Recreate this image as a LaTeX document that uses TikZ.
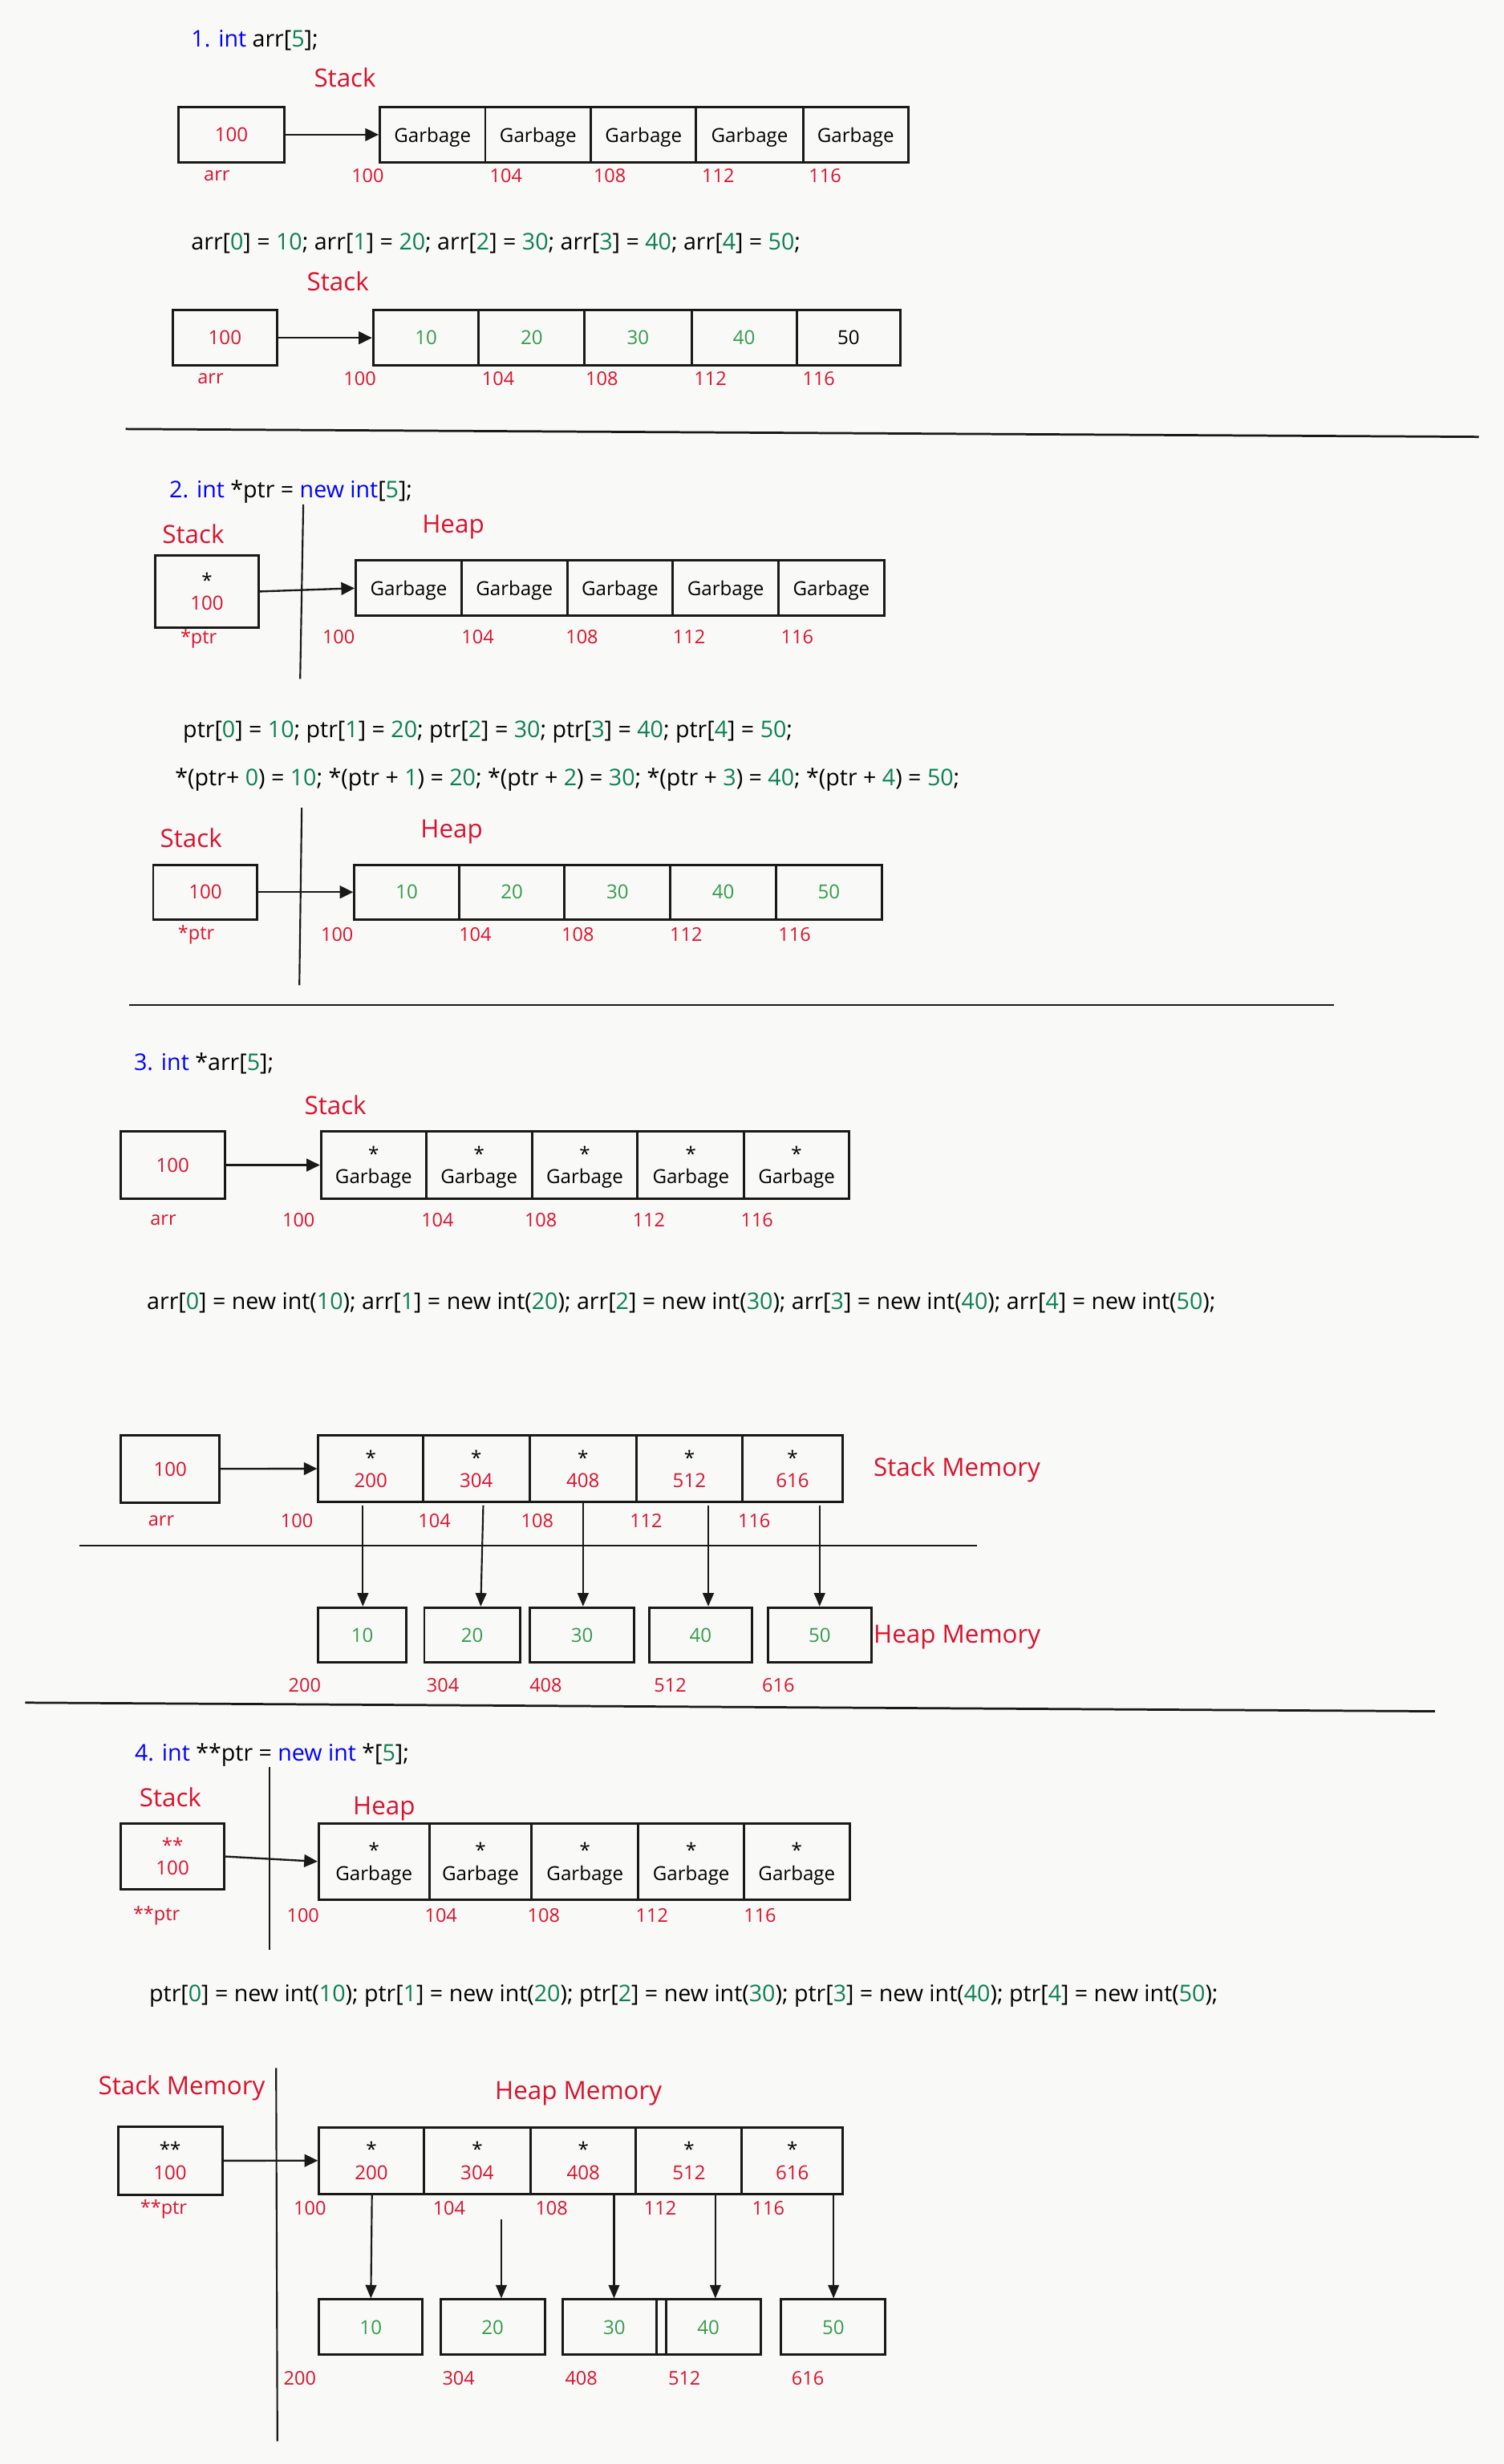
\documentclass[tikz,border=0pt]{standalone}
\usepackage{fontspec}
\setmainfont{Open Sans}
\usetikzlibrary{arrows.meta}
\definecolor{bg}{RGB}{249,249,247}
\definecolor{vred}{RGB}{218,18,45}
\definecolor{kblue}{RGB}{0,0,255}
\definecolor{kgreen}{RGB}{12,128,84}
\definecolor{vgreen}{RGB}{52,156,76}
\newcommand\kb[1]{\textcolor{kblue}{#1}}
\newcommand\gn[1]{\textcolor{kgreen}{#1}}
\newcommand\vg[1]{\textcolor{vgreen}{#1}}
\newcommand\rd[1]{\textcolor{vred}{#1}}
\newcommand\mkcell[6]{\node[cellst, minimum width={#3-#2}, minimum height=#5] (#1) at ({(#2+#3)/2},#4) {#6};}
\begin{document}
\begin{tikzpicture}[x=1pt,y=-1pt,
  cellst/.style={draw=black!90, line width=1.5pt, inner sep=0pt, text depth=0pt, align=center, font=\fontsize{12.3}{14.5}\selectfont},
  addr/.style={text=vred, inner sep=0pt, font=\fontsize{12}{14}\selectfont},
  code/.style={anchor=west, inner sep=0pt, font=\fontsize{14.6}{17}\selectfont},
  ttl/.style={text=vred, inner sep=0pt, font=\fontsize{16}{19}\selectfont},
  harr/.style={-{Triangle[length=8.5pt,width=8pt]}, line width=1.2pt, draw=black!90},
  varr/.style={-{Triangle[length=8.5pt,width=7pt]}, line width=1.1pt, draw=black!90},
  sepline/.style={line width=1.4pt, draw=black!90},
  divline/.style={line width=1.1pt, draw=black!90}]
\fill[bg] (0,0) rectangle (957,1568);
\useasboundingbox (0,0) rectangle (957,1568);

%% ---------- Section 1 ----------
\node[code] (t1) at (121.5,25.5) {\kb{1. int} arr[\gn{5}];};
\node[ttl] (st1) at (219.5,49.5) {Stack};
\mkcell{a1}{113.7}{180.8}{85.7}{35.5}{\rd{100}}
\node[addr] (la1) at (138,112) {arr};
\mkcell{g11}{241.7}{308.8}{85.7}{35.5}{Garbage}
\mkcell{g12}{308.8}{376}{85.7}{35.5}{Garbage}
\mkcell{g13}{376}{443}{85.7}{35.5}{Garbage}
\mkcell{g14}{443}{511}{85.7}{35.5}{Garbage}
\mkcell{g15}{511}{578}{85.7}{35.5}{Garbage}
\draw[harr] (a1.east) -- (g11.west);
\node[addr] (ad11) at (234,112) {100};
\node[addr] (ad12) at (322,112) {104};
\node[addr] (ad13) at (388,112) {108};
\node[addr] (ad14) at (457,112) {112};
\node[addr] (ad15) at (525,112) {116};

\node[code] (t1b) at (121.5,155) {arr[\gn{0}] = \gn{10}; arr[\gn{1}] = \gn{20}; arr[\gn{2}] = \gn{30}; arr[\gn{3}] = \gn{40}; arr[\gn{4}] = \gn{50};};
\node[ttl] (st1b) at (215,179) {Stack};
\mkcell{b1}{110}{176.2}{215}{35}{\rd{100}}
\node[addr] (lb1) at (134,241) {arr};
\mkcell{v11}{237.5}{304.6}{215}{35}{\vg{10}}
\mkcell{v12}{304.6}{372}{215}{35}{\vg{20}}
\mkcell{v13}{372}{440}{215}{35}{\vg{30}}
\mkcell{v14}{440}{507}{215}{35}{\vg{40}}
\mkcell{v15}{507}{573}{215}{35}{50}
\draw[harr] (b1.east) -- (v11.west);
\node[addr] (bd11) at (229,241) {100};
\node[addr] (bd12) at (317,241) {104};
\node[addr] (bd13) at (383,241) {108};
\node[addr] (bd14) at (452,241) {112};
\node[addr] (bd15) at (521,241) {116};

\draw[sepline] (80,273) -- (941,278);

%% ---------- Section 2 ----------
\node[code] (t2) at (107.6,313) {\kb{2. int} *ptr = \kb{new int}[\gn{5}];};
\node[ttl] (st2) at (123,340) {Stack};
\node[ttl] (hp2) at (288.4,335.4) {Heap};
\draw[divline] (193,321) -- (191,432);
\mkcell{p2}{98.8}{164.5}{376.4}{46.2}{*\\\rd{100}}
\node[addr] (lp2) at (126.4,406.5) {*ptr};
\mkcell{h21}{226.4}{293.7}{374.3}{35.2}{Garbage}
\mkcell{h22}{293.7}{360.9}{374.3}{35.2}{Garbage}
\mkcell{h23}{360.9}{428.1}{374.3}{35.2}{Garbage}
\mkcell{h24}{428.1}{495.4}{374.3}{35.2}{Garbage}
\mkcell{h25}{495.4}{562.6}{374.3}{35.2}{Garbage}
\draw[harr] (p2.east) -- (h21.west);
\node[addr] (hd21) at (215.5,405.5) {100};
\node[addr] (hd22) at (304,405.5) {104};
\node[addr] (hd23) at (370.3,405.5) {108};
\node[addr] (hd24) at (438.5,405.5) {112};
\node[addr] (hd25) at (507.3,405.5) {116};

\node[code] (t2b) at (116.3,465.6) {ptr[\gn{0}] = \gn{10}; ptr[\gn{1}] = \gn{20}; ptr[\gn{2}] = \gn{30}; ptr[\gn{3}] = \gn{40}; ptr[\gn{4}] = \gn{50};};
\node[code] (t2c) at (111.3,496.3) {*(ptr+ \gn{0}) = \gn{10}; *(ptr + \gn{1}) = \gn{20}; *(ptr + \gn{2}) = \gn{30}; *(ptr + \gn{3}) = \gn{40}; *(ptr + \gn{4}) = \gn{50};};
\node[ttl] (st2b) at (121.6,533.2) {Stack};
\node[ttl] (hp2b) at (287.4,529.5) {Heap};
\draw[divline] (192,514.1) -- (190.5,627);
\mkcell{q2}{97.5}{163.8}{567.7}{34.9}{\rd{100}}
\node[addr] (lq2) at (124.8,594.6) {*ptr};
\mkcell{w21}{225.5}{292.1}{567.7}{34.9}{\vg{10}}
\mkcell{w22}{292.1}{359.3}{567.7}{34.9}{\vg{20}}
\mkcell{w23}{359.3}{426.6}{567.7}{34.9}{\vg{30}}
\mkcell{w24}{426.6}{493.8}{567.7}{34.9}{\vg{40}}
\mkcell{w25}{493.8}{561.1}{567.7}{34.9}{\vg{50}}
\draw[harr] (q2.east) -- (w21.west);
\node[addr] (wd21) at (214.5,594.6) {100};
\node[addr] (wd22) at (302.4,594.6) {104};
\node[addr] (wd23) at (367.7,594.6) {108};
\node[addr] (wd24) at (436.6,594.6) {112};
\node[addr] (wd25) at (505.6,594.6) {116};

\draw[sepline] (82,639.5) -- (849,639.5);

%% ---------- Section 3 ----------
\node[code] (t3) at (85.1,676.7) {\kb{3. int} *arr[\gn{5}];};
\node[ttl] (st3) at (213.4,703.4) {Stack};
\mkcell{a3}{76.7}{143}{741.4}{42.6}{\rd{100}}
\node[addr] (la3) at (103.9,776.3) {arr};
\mkcell{g31}{204.3}{271.2}{741.4}{42.6}{*\\Garbage}
\mkcell{g32}{271.2}{338.5}{741.4}{42.6}{*\\Garbage}
\mkcell{g33}{338.5}{405.7}{741.4}{42.6}{*\\Garbage}
\mkcell{g34}{405.7}{473.6}{741.4}{42.6}{*\\Garbage}
\mkcell{g35}{473.6}{540.2}{741.4}{42.6}{*\\Garbage}
\draw[harr] (a3.east) -- (g31.west);
\node[addr] (ad31) at (190,776.3) {100};
\node[addr] (ad32) at (278.4,776.3) {104};
\node[addr] (ad33) at (344.1,776.3) {108};
\node[addr] (ad34) at (412.9,776.3) {112};
\node[addr] (ad35) at (481.7,776.3) {116};

\node[code] (t3b) at (93.3,829.1) {arr[\gn{0}] = new int(\gn{10}); arr[\gn{1}] = new int(\gn{20}); arr[\gn{2}] = new int(\gn{30}); arr[\gn{3}] = new int(\gn{40}); arr[\gn{4}] = new int(\gn{50});};

\mkcell{b3}{77}{139.7}{934.7}{42.7}{\rd{100}}
\node[addr] (lb3) at (102.6,967.8) {arr};
\mkcell{s31}{202.6}{269.3}{934.6}{42.6}{*\\\rd{200}}
\mkcell{s32}{269.3}{336.9}{934.6}{42.6}{*\\\rd{304}}
\mkcell{s33}{336.9}{404.9}{934.6}{42.6}{*\\\rd{408}}
\mkcell{s34}{404.9}{472.4}{934.6}{42.6}{*\\\rd{512}}
\mkcell{s35}{472.4}{536.2}{934.6}{42.6}{*\\\rd{616}}
\draw[harr] (b3.east) -- (s31.west);
\node[ttl, anchor=west] (sm3) at (555.7,935.5) {Stack Memory};
\node[addr] (sd31) at (188.9,967.8) {100};
\node[addr] (sd32) at (276.4,967.8) {104};
\node[addr] (sd33) at (341.9,967.8) {108};
\node[addr] (sd34) at (411.1,967.8) {112};
\node[addr] (sd35) at (479.9,967.8) {116};
\draw[sepline] (50.5,983.5) -- (621.5,983.5);
\mkcell{e31}{202.6}{258.4}{1040.5}{35}{\vg{10}}
\mkcell{e32}{270}{331}{1040.5}{35}{\vg{20}}
\mkcell{e33}{337.3}{403.5}{1040.5}{35}{\vg{30}}
\mkcell{e34}{413}{478.6}{1040.5}{35}{\vg{40}}
\mkcell{e35}{488.6}{554.5}{1040.5}{35}{\vg{50}}
\node[ttl, anchor=west] (hm3) at (555.7,1041.9) {Heap Memory};
\coordinate (o31) at (230.9,958);
\coordinate (o32) at (307.5,958);
\coordinate (o33) at (371,956);
\coordinate (o34) at (450.7,958);
\coordinate (o35) at (521.5,958);
\coordinate (x32) at (305.9,0);
\draw[varr] (o31) -- (o31 |- e31.north);
\draw[varr] (o32) -- (x32 |- e32.north);
\draw[varr] (o33) -- (o33 |- e33.north);
\draw[varr] (o34) -- (o34 |- e34.north);
\draw[varr] (o35) -- (o35 |- e35.north);
\node[addr] (ed31) at (193.9,1072.2) {200};
\node[addr] (ed32) at (281.8,1072.2) {304};
\node[addr] (ed33) at (347.3,1072.2) {408};
\node[addr] (ed34) at (426.5,1072.2) {512};
\node[addr] (ed35) at (495.3,1072.2) {616};

\draw[sepline] (16,1083.5) -- (913,1089);

%% ---------- Section 4 ----------
\node[code] (t4) at (85.6,1116.8) {\kb{4. int} **ptr = \kb{new int} *[\gn{5}];};
\node[ttl] (st4) at (108.4,1143.6) {Stack};
\node[ttl] (hp4) at (244.4,1150.9) {Heap};
\draw[divline] (171.6,1124.4) -- (171.6,1240.6);
\mkcell{p4}{76.8}{142.8}{1181.4}{41.8}{\rd{**}\\\rd{100}}
\node[addr] (lp4) at (99.6,1219) {**ptr};
\mkcell{h41}{202.8}{273.2}{1184.6}{48.2}{*\\Garbage}
\mkcell{h42}{273.2}{338.3}{1184.6}{48.2}{*\\Garbage}
\mkcell{h43}{338.3}{406.2}{1184.6}{48.2}{*\\Garbage}
\mkcell{h44}{406.2}{473.4}{1184.6}{48.2}{*\\Garbage}
\mkcell{h45}{473.4}{540.6}{1184.6}{48.2}{*\\Garbage}
\draw[harr] (p4.east) -- (h41.west);
\node[addr] (hd41) at (192.8,1219) {100};
\node[addr] (hd42) at (280.6,1219) {104};
\node[addr] (hd43) at (346,1219) {108};
\node[addr] (hd44) at (414.9,1219) {112};
\node[addr] (hd45) at (483.6,1219) {116};

\node[code] (t4b) at (94.8,1270) {ptr[\gn{0}] = new int(\gn{10}); ptr[\gn{1}] = new int(\gn{20}); ptr[\gn{2}] = new int(\gn{30}); ptr[\gn{3}] = new int(\gn{40}); ptr[\gn{4}] = new int(\gn{50});};

\node[ttl] (sm4) at (115.6,1328.8) {Stack Memory};
\node[ttl] (hm4) at (368.1,1332.1) {Heap Memory};
\draw[divline] (175.7,1316) -- (176.5,1553.5);
\mkcell{q4}{75.1}{141.4}{1375}{43.1}{**\\\rd{100}}
\node[addr] (lq4) at (104.1,1405.9) {**ptr};
\mkcell{s41}{203}{269.6}{1374.9}{42.2}{*\\\rd{200}}
\mkcell{s42}{269.6}{337.7}{1374.9}{42.2}{*\\\rd{304}}
\mkcell{s43}{337.7}{404.7}{1374.9}{42.2}{*\\\rd{408}}
\mkcell{s44}{404.7}{472.1}{1374.9}{42.2}{*\\\rd{512}}
\mkcell{s45}{472.1}{536.2}{1374.9}{42.2}{*\\\rd{616}}
\draw[harr] (q4.east) -- (s41.west);
\node[addr] (sd41) at (197.2,1405.4) {100};
\node[addr] (sd42) at (285.8,1405.4) {104};
\node[addr] (sd43) at (351,1405.4) {108};
\node[addr] (sd44) at (420.1,1405.4) {112};
\node[addr] (sd45) at (488.9,1405.4) {116};
\mkcell{e41}{203}{268.9}{1480.9}{35.2}{\vg{10}}
\mkcell{e42}{280.4}{346.6}{1480.9}{35.2}{\vg{20}}
\mkcell{e43}{358.1}{423.7}{1480.9}{35.2}{\vg{30}}
\mkcell{e44}{417.6}{483.9}{1480.9}{35.2}{\vg{40}}
\mkcell{e45}{497.1}{563.4}{1480.9}{35.2}{\vg{50}}
\coordinate (o41) at (236.7,1396);
\coordinate (o42) at (319,1412.2);
\coordinate (o43) at (390.7,1396);
\coordinate (o44) at (455.2,1396);
\coordinate (o45) at (530.4,1396);
\coordinate (x41) at (236,0);
\draw[varr] (o41) -- (x41 |- e41.north);
\draw[varr] (o42) -- (o42 |- e42.north);
\draw[varr] (o43) -- (o43 |- e43.north);
\draw[varr] (o44) -- (o44 |- e44.north);
\draw[varr] (o45) -- (o45 |- e45.north);
\node[addr] (ed41) at (190.8,1513.2) {200};
\node[addr] (ed42) at (291.8,1513.2) {304};
\node[addr] (ed43) at (369.9,1513.2) {408};
\node[addr] (ed44) at (435.5,1513.2) {512};
\node[addr] (ed45) at (514,1513.2) {616};
\end{tikzpicture}
\end{document}
